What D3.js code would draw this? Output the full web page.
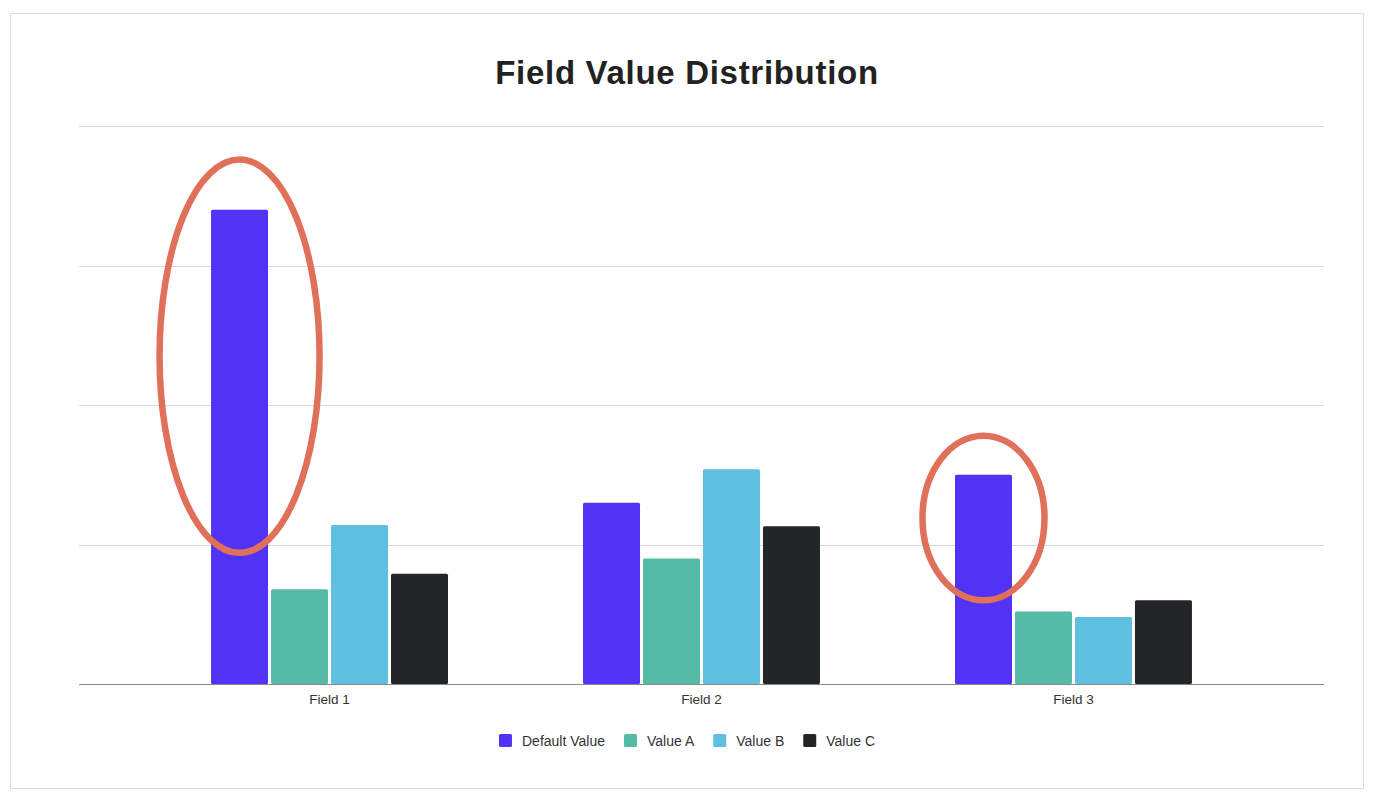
<!DOCTYPE html>
<html>
<head>
<meta charset="utf-8">
<script src="https://cdn.jsdelivr.net/npm/d3@7"></script>
<style>
  body { margin: 0; background: #fff; font-family: "Liberation Sans", Arial, sans-serif; }
</style>
</head>
<body>
<div id="chart"></div>
<script>
// data
const fields = ["Field 1", "Field 2", "Field 3"];
const seriesNames = ["Default Value", "Value A", "Value B", "Value C"];
const defaultValues = [340, 130, 150];
const valueA = [68, 90, 52];
const valueB = [114, 154, 48];
const valueC = [79, 113, 60];
const yTicks = [0, 100, 200, 300, 400];
// highlighted bars: which field, and value span the ring covers
const highlights = [
    { field: "Field 1", series: "Default Value", top: 376, bottom: 94 },
    { field: "Field 3", series: "Default Value", top: 178, bottom: 60 }
];

const colors = ["#5233f6", "#55bba6", "#5ebfe0", "#232628"];

const width = 1375;
const height = 800;
const margin = { top: 126, right: 51, bottom: 116, left: 79 };

const svg = d3.select("#chart")
    .append("svg")
    .attr("width", width)
    .attr("height", height);

// frame
svg.append("rect")
    .attr("x", 10.5)
    .attr("y", 13.5)
    .attr("width", 1353)
    .attr("height", 775)
    .attr("fill", "#fff")
    .attr("stroke", "#dcdcdc");

const boxCenter = 687;

svg.append("text")
    .attr("x", boxCenter)
    .attr("y", 84)
    .attr("text-anchor", "middle")
    .style("font-size", "33px")
    .style("letter-spacing", "0.7px")
    .style("font-weight", "bold")
    .style("fill", "#222")
    .text("Field Value Distribution");

const x0 = d3.scaleBand()
    .domain(fields)
    .range([margin.left, width - margin.right])
    .paddingInner(0.363)
    .paddingOuter(0.355);

const x1 = d3.scaleBand()
    .domain(seriesNames)
    .range([0, x0.bandwidth()])
    .paddingInner(0.05);

const y = d3.scaleLinear()
    .domain([0, 400])
    .range([height - margin.bottom, margin.top]);

const color = d3.scaleOrdinal().domain(seriesNames).range(colors);

// gridlines
svg.append("g")
    .selectAll("line")
    .data(yTicks.slice(1))
    .enter()
    .append("line")
    .attr("x1", margin.left)
    .attr("x2", width - margin.right)
    .attr("y1", d => Math.round(y(d)) + 0.5)
    .attr("y2", d => Math.round(y(d)) + 0.5)
    .attr("stroke", "#d9d9d9")
    .attr("stroke-width", 1);

const rows = fields.map((f, i) => ({
    field: f,
    values: [defaultValues[i], valueA[i], valueB[i], valueC[i]]
}));

const groups = svg.append("g")
    .selectAll("g")
    .data(rows)
    .enter()
    .append("g")
    .attr("transform", d => `translate(${x0(d.field)},0)`);

groups.selectAll("rect")
    .data(d => d.values.map((v, j) => ({ key: seriesNames[j], value: v })))
    .enter()
    .append("rect")
    .attr("x", d => x1(d.key))
    .attr("y", d => y(d.value))
    .attr("width", x1.bandwidth())
    .attr("height", d => y(0) - y(d.value))
    .attr("rx", 1.5)
    .attr("fill", d => color(d.key));

// baseline
svg.append("line")
    .attr("x1", margin.left)
    .attr("x2", width - margin.right)
    .attr("y1", y(0) + 0.5)
    .attr("y2", y(0) + 0.5)
    .attr("stroke", "#888")
    .attr("stroke-width", 1.2);

// x labels
const xAxis = d3.axisBottom(x0).tickSize(0).tickPadding(10);
const xg = svg.append("g")
    .attr("transform", `translate(0, ${y(0)})`)
    .call(xAxis);
xg.select(".domain").remove();
xg.selectAll("text")
    .style("font-size", "13.5px")
    .style("font-family", "'Liberation Sans', Arial, sans-serif")
    .style("fill", "#333");

// highlight rings
svg.append("g")
    .selectAll("ellipse")
    .data(highlights)
    .enter()
    .append("ellipse")
    .attr("cx", d => x0(d.field) + x1(d.series) + x1.bandwidth() / 2)
    .attr("cy", d => (y(d.top) + y(d.bottom)) / 2)
    .attr("rx", (d, i) => i === 0 ? 80 : 61)
    .attr("ry", d => (y(d.bottom) - y(d.top)) / 2)
    .attr("fill", "none")
    .attr("stroke", "#e0705a")
    .attr("stroke-width", 6.5);

// legend
const legend = svg.append("g").attr("transform", "translate(0,741)");
const items = legend.selectAll("g")
    .data(seriesNames)
    .enter()
    .append("g");

items.append("rect")
    .attr("x", 0)
    .attr("y", -7)
    .attr("width", 13)
    .attr("height", 13)
    .attr("rx", 1.5)
    .attr("fill", d => color(d));

items.append("text")
    .attr("x", 23)
    .attr("y", 5)
    .style("font-size", "14px")
    .style("fill", "#333")
    .text(d => d);

let offsets = [];
let cursor = 0;
items.each(function() {
    const w = 23 + d3.select(this).select("text").node().getComputedTextLength();
    offsets.push(cursor);
    cursor += w + 19;
});
const totalW = cursor - 19;
const start = boxCenter - totalW / 2;
items.attr("transform", (d, i) => `translate(${start + offsets[i]},0)`);
</script>
</body>
</html>
